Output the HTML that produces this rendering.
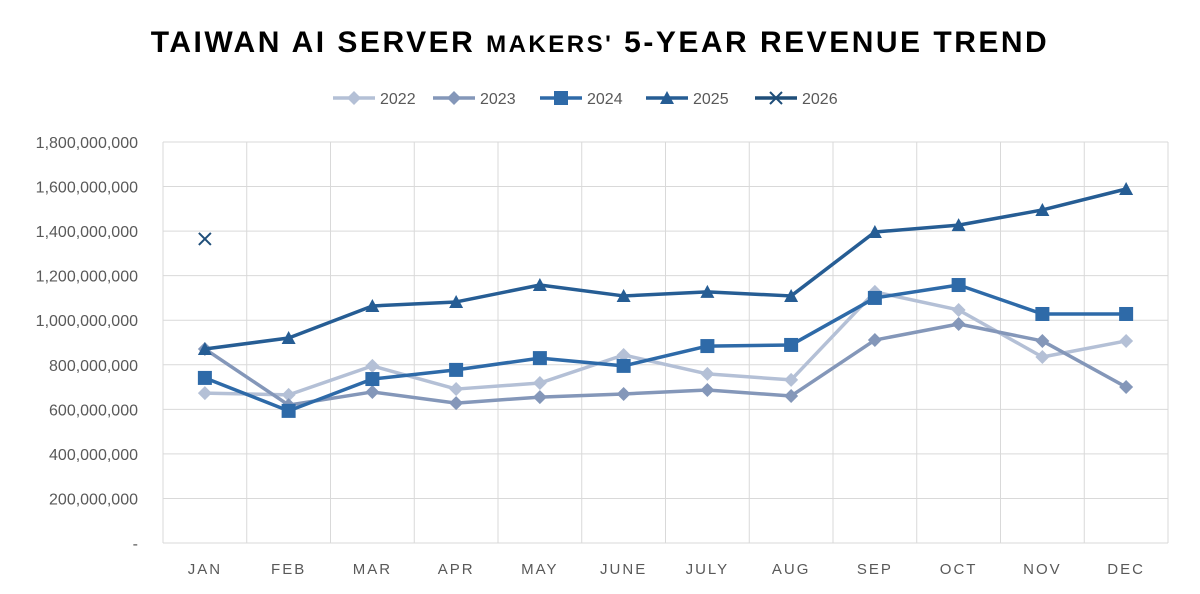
<!DOCTYPE html>
<html><head><meta charset="utf-8"><style>
body{margin:0;background:#fff;font-family:"Liberation Sans",sans-serif;}
#wrap{width:1200px;height:594px;position:relative;overflow:hidden;}
</style></head><body>
<div id="wrap">
<svg id="chart" width="1200" height="594"></svg>
</div>
<script>
const categories=["JAN","FEB","MAR","APR","MAY","JUNE","JULY","AUG","SEP","OCT","NOV","DEC"];
const yTicks=[0,200e6,400e6,600e6,800e6,1000e6,1200e6,1400e6,1600e6,1800e6];
const yTickLabels=["-","200,000,000","400,000,000","600,000,000","800,000,000","1,000,000,000","1,200,000,000","1,400,000,000","1,600,000,000","1,800,000,000"];
const s2022=[673e6,665e6,795e6,691e6,718e6,844e6,759e6,732e6,1127e6,1046e6,835e6,907e6];
const s2023=[871e6,619e6,678e6,628e6,655e6,669e6,687e6,660e6,911e6,983e6,907e6,700e6];
const s2024=[741e6,593e6,736e6,777e6,830e6,795e6,884e6,889e6,1100e6,1158e6,1028e6,1028e6];
const s2025=[871e6,920e6,1064e6,1082e6,1158e6,1109e6,1127e6,1109e6,1396e6,1427e6,1495e6,1589e6];
const s2026=[1365e6];
const seriesNames=["2022","2023","2024","2025","2026"];

const NS="http://www.w3.org/2000/svg";
const svg=document.getElementById('chart');
const x0=163,x1=1168,yBase=543,yTop=142,yMax=1800e6;
const bw=(x1-x0)/categories.length;
const X=i=>x0+bw*(i+0.5);
const Y=v=>yBase-(v/yMax)*(yBase-yTop);
function el(t,a,p){const e=document.createElementNS(NS,t);for(const k in a)e.setAttribute(k,a[k]);(p||svg).appendChild(e);return e;}

const title=el('text',{x:600,y:52,'text-anchor':'middle','font-size':30,'font-weight':'bold',fill:'#000','letter-spacing':'2.5'});


title.innerHTML='TAIWAN AI SERVER <tspan font-size="24">MAKERS\'</tspan> 5-YEAR REVENUE TREND';

// gridlines
for(let i=0;i<yTicks.length;i++){
  const y=Y(yTicks[i]);
  if(i>0){const g=el('line',{x1:x0,x2:x1,y1:y,y2:y,stroke:'#d9d9d9','stroke-width':1});
  }
  const t=el('text',{x:138,y:y+6,'text-anchor':'end','font-size':16,fill:'#595959'});
  
  t.textContent=yTickLabels[i];
}
for(let i=0;i<=categories.length;i++){
  const x=x0+bw*i;
  const g=el('line',{x1:x,x2:x,y1:yTop,y2:yBase,stroke:'#d9d9d9','stroke-width':1});
  
}
const ax=el('line',{x1:x0,x2:x1,y1:yBase,y2:yBase,stroke:'#d9d9d9','stroke-width':1});

categories.forEach((c,i)=>{
  const t=el('text',{x:X(i),y:574,'text-anchor':'middle','font-size':15,fill:'#595959','letter-spacing':'2'});
  
  t.textContent=c;
});

const colors=['#b4c0d6','#8497b9','#2e6aa8','#265d94','#1f4e79'];
const markers=['diamond','diamond','square','triangle','x'];
function marker(type,x,y,c,g){
  let m;
  if(type==='diamond')m=el('polygon',{points:`${x},${y-7} ${x+7},${y} ${x},${y+7} ${x-7},${y}`,fill:c},g);
  else if(type==='square')m=el('rect',{x:x-7,y:y-7,width:14,height:14,fill:c},g);
  else if(type==='triangle')m=el('polygon',{points:`${x},${y-7} ${x+7},${y+6} ${x-7},${y+6}`,fill:c},g);
  else m=el('path',{d:`M${x-6},${y-6}L${x+6},${y+6}M${x+6},${y-6}L${x-6},${y+6}`,stroke:c,'stroke-width':2,fill:'none'},g);
  return m;
}
const allSeries=[s2022,s2023,s2024,s2025,s2026];
allSeries.forEach((s,k)=>{
  const g=el('g',{});
  
  
  if(s.length>1){
    const p=el('polyline',{points:s.map((v,i)=>X(i)+','+Y(v)).join(' '),fill:'none',stroke:colors[k],'stroke-width':3.5,'stroke-linejoin':'round'},g);
    
    
  }
  s.forEach((v,i)=>{
    const m=marker(markers[k],X(i),Y(v),colors[k],g);
    
    
  });
});

// legend
const lx=[333,433,540,646,755];
seriesNames.forEach((n,k)=>{
  const g=el('g',{});
  
  
  el('line',{x1:lx[k],x2:lx[k]+42,y1:98,y2:98,stroke:colors[k],'stroke-width':3.5},g);
  marker(markers[k],lx[k]+21,98,colors[k],g);
  const t=el('text',{x:lx[k]+47,y:104,'font-size':16,fill:'#595959'},g);
  t.textContent=n;
});
</script>
</body></html>
